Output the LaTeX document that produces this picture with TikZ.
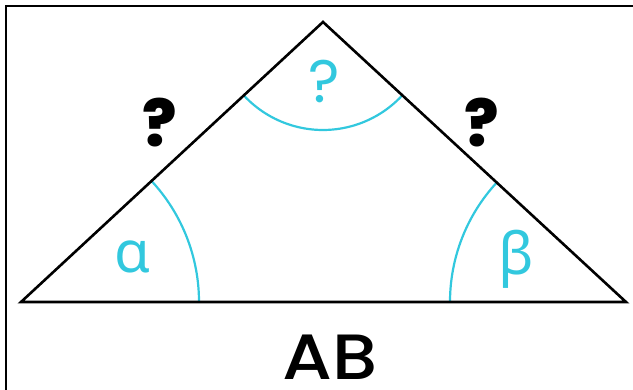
\documentclass[tikz,border=0pt]{standalone}
\usepackage{fontspec}
\usetikzlibrary{calc}
\setmainfont{Poppins}
\newfontfamily\greekfont{Noto Sans}
\newfontfamily\abfont{Poppins Medium}
\newfontfamily\qfont{Poppins ExtraBold}
\definecolor{arccyan}{RGB}{50,200,222}
\begin{document}
\begin{tikzpicture}[x=1pt,y=-1pt,
  edge/.style={line width=2.6pt,line join=miter},
  arcline/.style={arccyan,line width=2.2pt},
  qmark/.style={font=\qfont\fontsize{64}{64}\selectfont,inner sep=0pt},
  greek/.style={text=arccyan,font=\greekfont\fontsize{58}{58}\selectfont,inner sep=0pt}]
\useasboundingbox (0,0) rectangle (633,390);
\draw[line width=1.3pt] (6,390) -- (6,6) -- (633,6);
\coordinate (A) at (21,302);
\coordinate (C) at (323,22);
\coordinate (B) at (626,302);
% arcs
\draw[arcline] (199,302) arc[start angle=0,end angle=-42.8,radius=178];
\draw[arcline] (450,302) arc[start angle=180,end angle=222.7,radius=176];
\draw[arcline] ($(C)+(137.2:108)$) arc[start angle=137.2,end angle=42.8,radius=108];
\draw[edge] (A) -- (C) -- (B) -- cycle;
\node[greek] (alpha) at (133,257) {α};
\node[greek] (beta) at (516,259) {β};
\node[qmark] (q1) at (160,123) {?};
\node[qmark] (q2) at (482,123) {?};
\node[text=arccyan,font=\fontsize{60}{60}\selectfont,inner sep=0pt] (q3) at (324,82) {?};
\node[font=\abfont\fontsize{64}{64}\selectfont,inner sep=0pt,text height=46pt,text depth=0pt,anchor=base] (ab) at (330,380) {\scalebox{1.12}[1]{AB}};
\end{tikzpicture}
\end{document}
